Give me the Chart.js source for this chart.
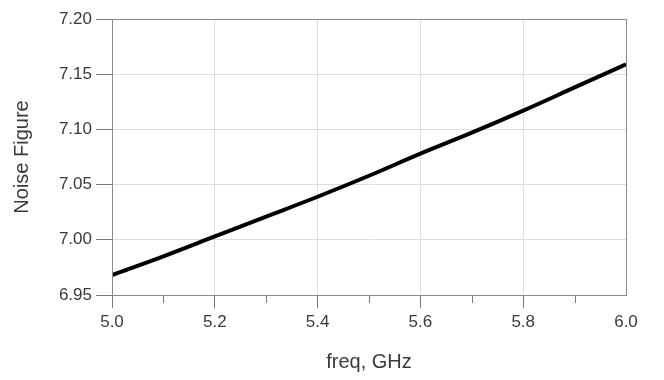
<!DOCTYPE html>
<html>
<head>
<meta charset="utf-8">
<script src="https://cdn.jsdelivr.net/npm/chart.js@4/dist/chart.umd.min.js"></script>
<style>
  html, body { margin: 0; padding: 0; background: #ffffff; }
  #wrap { width: 664px; height: 380px; position: relative; }
</style>
</head>
<body>
<div id="wrap"><canvas id="c" width="664" height="380"></canvas></div>
<script>
// Data
const freq = [5.0, 5.1, 5.2, 5.3, 5.4, 5.5, 5.6, 5.7, 5.8, 5.9, 6.0];
const noiseFigure = [6.968, 6.985, 7.003, 7.021, 7.039, 7.058, 7.078, 7.097, 7.117, 7.138, 7.159];
const xMajorTicks = [5.0, 5.2, 5.4, 5.6, 5.8, 6.0];
const xMinorTicks = [5.1, 5.3, 5.5, 5.7, 5.9];
const yTicks = [6.95, 7.00, 7.05, 7.10, 7.15, 7.20];
const xTitle = 'freq, GHz';
const yTitle = 'Noise Figure';

const FONT = "'Liberation Sans', Arial, sans-serif";
const TEXT = '#3a3a3a';
const GRID = '#dcdcdc';
const TICK = '#7a7a7a';
const FRAME = '#8a8a8a';

const framePlugin = {
  id: 'frame',
  afterDatasetsDraw(chart) {
    const {ctx, chartArea: a, scales} = chart;
    ctx.save();
    // minor ticks on the x axis
    ctx.strokeStyle = TICK;
    ctx.lineWidth = 1;
    xMinorTicks.forEach(v => {
      const px = Math.round(scales.x.getPixelForValue(v)) + 0.5;
      ctx.beginPath();
      ctx.moveTo(px, a.bottom);
      ctx.lineTo(px, a.bottom + 8);
      ctx.stroke();
    });
    // frame around plot area
    ctx.strokeStyle = FRAME;
    ctx.strokeRect(Math.round(a.left) + 0.5, Math.round(a.top) + 0.5,
                   Math.round(a.right - a.left), Math.round(a.bottom - a.top));
    ctx.restore();
  }
};

new Chart(document.getElementById('c'), {
  type: 'line',
  data: {
    datasets: [{
      data: freq.map((f, i) => ({x: f, y: noiseFigure[i]})),
      borderColor: '#000000',
      borderWidth: 4,
      pointRadius: 0,
      fill: false,
      cubicInterpolationMode: 'monotone'
    }]
  },
  options: {
    responsive: false,
    animation: false,
    devicePixelRatio: 1,
    layout: { padding: { top: 19, right: 38, bottom: 0, left: 0 } },
    plugins: { legend: { display: false }, tooltip: { enabled: false } },
    scales: {
      x: {
        type: 'linear',
        min: 5.0, max: 6.0,
        afterBuildTicks: s => { s.ticks = xMajorTicks.map(v => ({value: v})); },
        afterFit: s => { s.height = 85; },
        ticks: {
          callback: v => Number(v).toFixed(1),
          color: TEXT,
          font: { family: FONT, size: 17 },
          padding: 4,
          maxRotation: 0
        },
        grid: {
          color: ctx => (ctx.tick && (ctx.tick.value > 5.01 && ctx.tick.value < 5.99)) ? GRID : 'rgba(0,0,0,0)',
          tickColor: ctx => (ctx.tick && ctx.tick.value > 5.99) ? 'rgba(0,0,0,0)' : TICK,
          tickLength: 13,
          drawTicks: true
        },
        border: { display: true, color: FRAME },
        title: {
          display: true, text: xTitle, color: TEXT,
          font: { family: FONT, size: 20 },
          padding: { top: 0, bottom: 6 }
        }
      },
      y: {
        type: 'linear',
        min: 6.95, max: 7.20,
        afterBuildTicks: s => { s.ticks = yTicks.map(v => ({value: v})); },
        afterFit: s => { s.width = 112; },
        ticks: {
          callback: v => Number(v).toFixed(2),
          color: TEXT,
          font: { family: FONT, size: 17 },
          padding: 4
        },
        grid: {
          color: ctx => (ctx.tick && (ctx.tick.value > 6.96 && ctx.tick.value < 7.19)) ? GRID : 'rgba(0,0,0,0)',
          tickColor: TICK,
          tickLength: 16,
          drawTicks: true
        },
        border: { display: true, color: FRAME },
        title: {
          display: true, text: yTitle, color: TEXT,
          font: { family: FONT, size: 20 },
          padding: { top: 10, bottom: 0 }
        }
      }
    }
  },
  plugins: [framePlugin]
});
</script>
</body>
</html>
